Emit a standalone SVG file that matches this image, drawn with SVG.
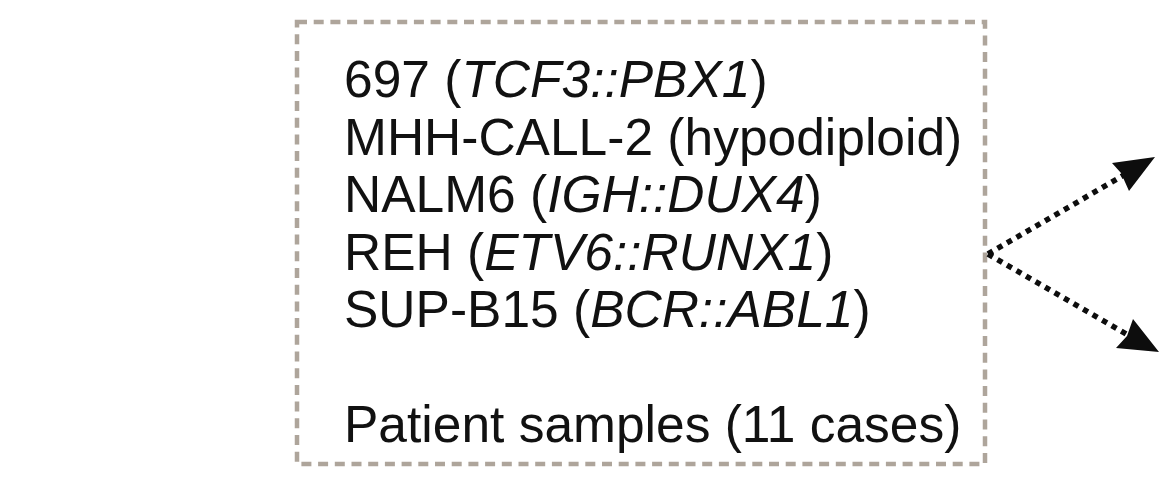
<svg xmlns="http://www.w3.org/2000/svg" width="1176" height="488" viewBox="0 0 1176 488">
  <style>
    .box { fill: none; stroke: #aea59b; stroke-width: 4.5; stroke-dasharray: 10 6.7; }
    .lbl { font-family: "Liberation Sans", Arial, sans-serif; font-size: 51.5px; fill: #111111; }
    .it { font-style: italic; }
    .conn { fill: none; stroke: #0d0d0d; stroke-width: 5.5; stroke-dasharray: 5.5 5.5; }
  </style>
  <rect x="0" y="0" width="1176" height="488" fill="#ffffff"/>
  <g id="node-cells">
    <rect class="box" x="297" y="22" width="688" height="442"/>
    <text class="lbl" x="344" y="97">697 (<tspan class="it">TCF3::PBX1</tspan>)</text>
    <text class="lbl" x="344" y="155">MHH-CALL-2 (hypodiploid)</text>
    <text class="lbl" x="344" y="212">NALM6 (<tspan class="it">IGH::DUX4</tspan>)</text>
    <text class="lbl" x="344" y="270">REH (<tspan class="it">ETV6::RUNX1</tspan>)</text>
    <text class="lbl" x="344" y="327">SUP-B15 (<tspan class="it">BCR::ABL1</tspan>)</text>
    <text class="lbl" x="344" y="442">Patient samples (11 cases)</text>
  </g>
  <g id="connectors">
    <line class="conn" x1="988" y1="254" x2="1124" y2="175"/>
    <path d="M1155,157 L1112,163 L1121,173 L1129,191 Z" fill="#0d0d0d"/>
    <line class="conn" x1="988" y1="254" x2="1126" y2="334"/>
    <path d="M1159,352 L1133,319 L1127,336 L1116,348 Z" fill="#0d0d0d"/>
  </g>
</svg>
